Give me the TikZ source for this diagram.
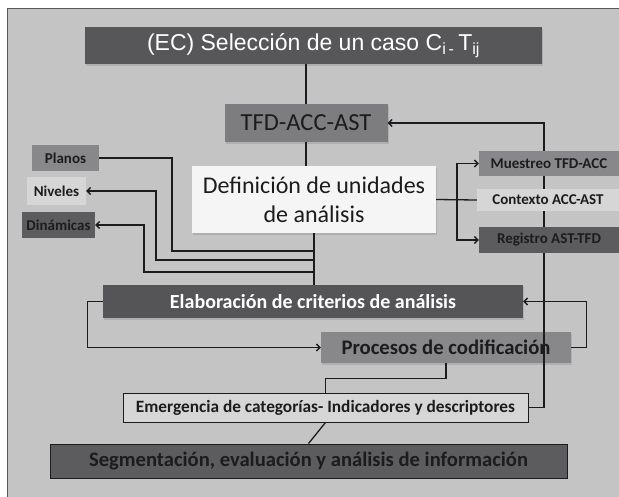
\documentclass[tikz,border=0pt]{standalone}
\usepackage{fontspec}
\setmainfont{Carlito}
\newfontfamily\arialfont{Liberation Sans}
\usepackage{xcolor}
\definecolor{fondo}{RGB}{196,196,196}
\definecolor{tinta}{RGB}{28,28,30}
\definecolor{grisoscuro}{RGB}{92,92,95}
\definecolor{grismedio}{RGB}{136,136,138}
\definecolor{grisclaro}{RGB}{214,214,214}
\definecolor{casiblanco}{RGB}{245,245,245}
\usepackage{tikz}
\usetikzlibrary{arrows.meta,shadows}

\tikzset{
  caja/.style={inner sep=0pt,align=center,text=tinta},
  sombra/.style={drop shadow={opacity=0.3,shadow xshift=1pt,shadow yshift=-1.5pt}},
  lado/.style={caja,font=\bfseries\fontsize{15}{17}\selectfont},
  linea/.style={draw=tinta,line width=1.3pt},
  flecha/.style={linea,-{Straight Barb[length=3.5pt,width=7pt]}}
}

\begin{document}
\begin{tikzpicture}[x=1pt,y=-1pt]
\useasboundingbox (0,0) rectangle (619,496);
\fill[fondo,draw=gray!70!black,line width=0.6pt] (7,8) rectangle (622,499);

\node[caja,fill=grisoscuro!95!black,sombra,text=white,minimum width=457pt,minimum height=37pt,
      font=\arialfont\fontsize{23}{26}\selectfont] (seleccion) at (313.5,45.5)
  {(EC) Selección de un caso C\textsubscript{i\,-}\,T\textsubscript{ij}};
\node[caja,fill=grismedio!92!black,sombra,minimum width=163pt,minimum height=38pt,
      font=\fontsize{24.5}{28}\selectfont] (tfd) at (306,123) {TFD-ACC-AST};
\node[caja,fill=casiblanco,sombra,minimum width=244pt,minimum height=67pt,
      font=\fontsize{24}{29}\selectfont] (definicion) at (314,199.5)
  {Definición de unidades\\de análisis};

\node[lado,fill=grismedio,minimum width=67pt,minimum height=26pt] (planos) at (65.5,158) {Planos};
\node[lado,fill=grisclaro,minimum width=59pt,minimum height=28pt] (niveles) at (56.5,191) {Niveles};
\node[lado,fill=grisoscuro,minimum width=73pt,minimum height=26pt] (dinamicas) at (58.5,225) {Dinámicas};

\node[caja,fill=grisoscuro!92!black,sombra,text=white,minimum width=420pt,minimum height=33pt,
      font=\bfseries\fontsize{20}{23}\selectfont] (elaboracion) at (313,301.5)
  {Elaboración de criterios de análisis};
\node[caja,fill=grismedio,sombra,minimum width=250pt,minimum height=31pt,
      font=\bfseries\fontsize{20.7}{24}\selectfont] (procesos) at (446,347.5)
  {Procesos de codificación};
\node[caja,fill=grisclaro,draw=tinta,line width=1pt,minimum width=405pt,minimum height=29pt,
      font=\bfseries\fontsize{17.3}{20}\selectfont] (emergencia) at (325.5,407.5)
  {Emergencia de categorías- Indicadores y descriptores};
\node[caja,fill=grisoscuro,draw=tinta,line width=1pt,minimum width=517pt,minimum height=34pt,
      font=\bfseries\fontsize{20.6}{24}\selectfont] (segmentacion) at (308.5,461)
  {Segmentación, evaluación y análisis de información};

\draw[linea] (seleccion.south -| tfd.north) -- (tfd.north);
\draw[linea] (tfd.south) -- (tfd.south |- definicion.north);
\draw[linea] (definicion.south) -- (definicion.south |- elaboracion.north);
\draw[linea] (planos.east) -| (172,251) -- (definicion.south |- 0,251);
\draw[flecha] (definicion.south |- 0,260) -| (156,191) -- (niveles.east);
\draw[flecha] (definicion.south |- 0,272) -| (144,225) -- (dinamicas.east);

\draw[flecha] (elaboracion.west) -- ++(-15,0) |- (procesos.west);
\draw[flecha] (procesos.east) -- ++(15,0) |- (elaboracion.east);
\draw[linea] (procesos.south) -- ++(0,15) -| (emergencia.north);
\draw[linea] (emergencia.south) -- (segmentacion.north);
\draw[flecha] (emergencia.east) -- ++(15.5,0) |- (tfd.east);

\node[lado,fill=grismedio,minimum width=140pt,minimum height=25pt] (muestreo) at (549,163.5) {Muestreo TFD-ACC};
\node[lado,fill=grisclaro,minimum width=142pt,minimum height=22pt] (contexto) at (548,200) {Contexto ACC-AST};
\node[lado,fill=grisoscuro,minimum width=140pt,minimum height=26pt] (registro) at (549,240) {Registro AST-TFD};

\draw[linea] (definicion.east) -- (contexto.west);
\draw[flecha] (457,200) |- (muestreo.west);
\draw[flecha] (457,200) |- (registro.west);
\end{tikzpicture}
\end{document}
